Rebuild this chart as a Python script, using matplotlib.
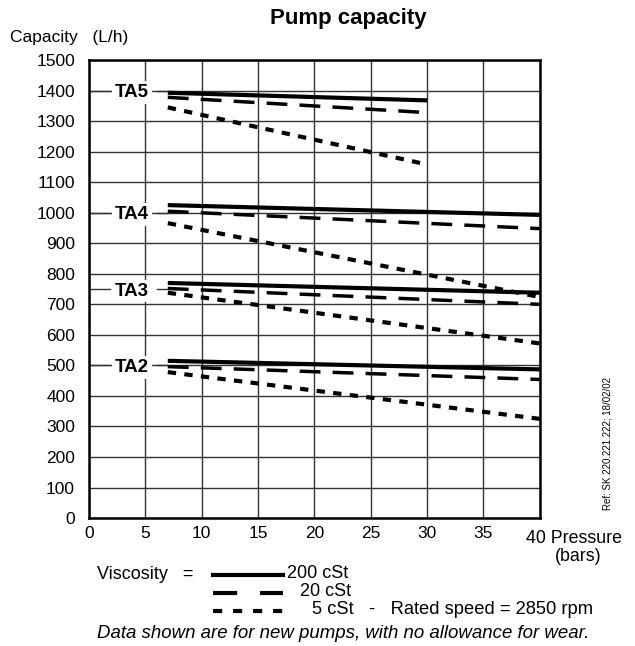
import matplotlib.pyplot as plt

plt.rcParams['font.family'] = ['Liberation Sans', 'DejaVu Sans']

# pump models and their curves: (start, end) capacity in L/h
pumps = ['TA5', 'TA4', 'TA3', 'TA2']
label_y = [1400, 1000, 750, 500]
p_start = [7, 7, 7, 7]
p_end = [30, 40, 40, 40]
cap_200 = [(1393, 1368), (1025, 993), (770, 738), (515, 487)]
cap_20 = [(1378, 1328), (1005, 948), (752, 700), (496, 454)]
cap_5 = [(1345, 1158), (966, 724), (738, 572), (478, 325)]

x_ticks = [0, 5, 10, 15, 20, 25, 30, 35, 40]
y_ticks = list(range(0, 1600, 100))

fig = plt.figure(figsize=(6.35, 6.46), dpi=100)
ax = fig.add_axes([0.140, 0.198, 0.710, 0.709])

for i in range(len(pumps)):
    xs = [p_start[i], p_end[i]]
    ax.plot(xs, cap_200[i], color='black', lw=3.0, solid_capstyle='butt')
    ax.plot(xs, cap_20[i], color='black', lw=2.5, dashes=(6, 3.5))
    ax.plot(xs, cap_5[i], color='black', lw=3.0, dashes=(2.0, 2.0))
    ax.plot([0, 1.9], [label_y[i], label_y[i]], color='#333333', lw=1)
    ax.plot([6.0, 7], [label_y[i], label_y[i]], color='#333333', lw=1)
    ax.text(3.8, label_y[i], pumps[i], ha='center', va='center_baseline',
            fontsize=13.5, fontweight='bold', zorder=4,
            bbox=dict(facecolor='white', edgecolor='none', pad=2))

ax.set_xlim(0, 40)
ax.set_ylim(0, 1500)
ax.set_xticks(x_ticks)
ax.set_yticks(y_ticks)
ax.set_xticklabels([str(v) for v in x_ticks[:-1]] + [''], fontsize=12.5)
ax.set_yticklabels([str(v) for v in y_ticks], fontsize=12.5)
ax.tick_params(axis='y', length=0, pad=10)
ax.tick_params(axis='x', length=0, pad=6)
ax.grid(True, color='#333333', lw=1)
for s in ax.spines.values():
    s.set_linewidth(1.8)

fig.text(0.548, 0.971, 'Pump capacity', ha='center', va='center',
         fontsize=16, fontweight='bold')
fig.text(0.016, 0.942, 'Capacity   (L/h)', ha='left', va='center', fontsize=12.5)
fig.text(0.828, 0.167, '40 Pressure', ha='left', va='center', fontsize=12.8)
fig.text(0.910, 0.138, '(bars)', ha='center', va='center', fontsize=12.8)
fig.text(0.957, 0.314, 'Ref: SK 220.221.222; 18/02/02', rotation=90,
         ha='center', va='center', fontsize=7)

# legend
fig.text(0.153, 0.111, 'Viscosity   =', ha='left', va='center', fontsize=13)
lx = [0.336, 0.446]
fig.add_artist(plt.Line2D(lx, [0.110, 0.110], color='black', lw=3))
fig.add_artist(plt.Line2D(lx, [0.082, 0.082], color='black', lw=3, dashes=(5.8, 5.5)))
fig.add_artist(plt.Line2D(lx, [0.054, 0.054], color='black', lw=3, dashes=(2.2, 2.6)))
fig.text(0.452, 0.112, '200 cSt', ha='left', va='center', fontsize=13)
fig.text(0.472, 0.084, '20 cSt', ha='left', va='center', fontsize=13)
fig.text(0.491, 0.056, '5 cSt   -   Rated speed = 2850 rpm', ha='left',
         va='center', fontsize=13.2)
fig.text(0.540, 0.020, 'Data shown are for new pumps, with no allowance for wear.',
         ha='center', va='center', fontsize=13.4, style='italic')

fig.savefig('out.png', dpi=100)
